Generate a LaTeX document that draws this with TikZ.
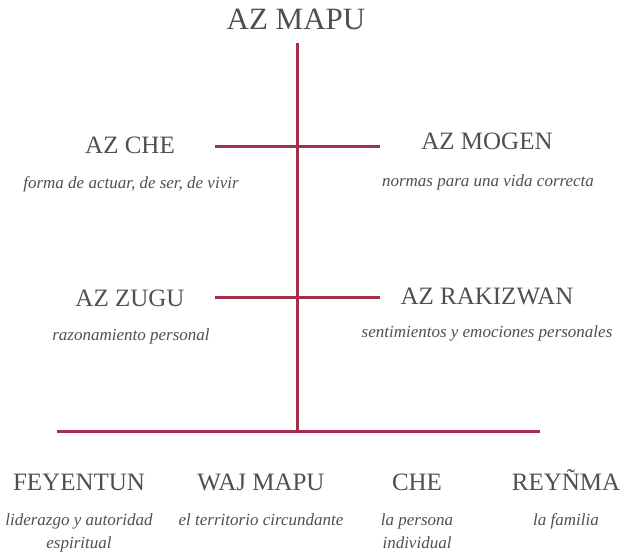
\documentclass[tikz,border=0pt]{standalone}
\usepackage{fontspec}
\setmainfont{Liberation Serif}
\usepackage{tikz}
\usetikzlibrary{positioning}
\definecolor{linecol}{HTML}{A32F48}
\definecolor{textcol}{HTML}{4F4F4F}
\tikzset{
  title/.style={text=textcol, font=\fontsize{31}{31}\selectfont},
  head/.style={text=textcol, font=\fontsize{25}{25}\selectfont, text height=0.68em, text depth=0.02em, yshift=-5pt},
  desc/.style={text=textcol, font=\itshape\fontsize{17}{23}\selectfont, align=center},
  bar/.style={draw=linecol, line width=3pt}
}
\begin{document}
\begin{tikzpicture}[x=1pt, y=-1pt]
  \useasboundingbox (0,0) rectangle (624,552);

  % Draw the title and the main axis
  \node[title] (mapu) at (296,19) {AZ MAPU};
  \coordinate (top) at (297,43);
  \coordinate (bottom) at (297,431);
  \draw[bar] (top) -- (bottom);

  % Draw the cross bars
  \coordinate (l1) at (215,146);
  \coordinate (r1) at (380,146);
  \coordinate (l2) at (215,297);
  \coordinate (r2) at (380,297);
  \draw[bar] (l1) -- (r1);
  \draw[bar] (l2) -- (r2);

  % Draw the base line
  \coordinate (bl) at (57,431);
  \coordinate (br) at (540,431);
  \draw[bar] (bl) -- (br);

  % Upper pair
  \node[head] (che) at (130,145) {AZ CHE};
  \node[desc] (cheD) at (131,184) {forma de actuar, de ser, de vivir};
  \node[head] (mogen) at (487,141) {AZ MOGEN};
  \node[desc] (mogenD) at (488,182) {normas para una vida correcta};

  % Lower pair
  \node[head] (zugu) at (130,298) {AZ ZUGU};
  \node[desc] (zuguD) at (131,336) {razonamiento personal};
  \node[head] (rakizwan) at (487,296) {AZ RAKIZWAN};
  \node[desc] (rakizwanD) at (487,333) {sentimientos y emociones personales};

  % Base items
  \foreach \name/\x/\lbl/\txt in {feyentun/79/FEYENTUN/{liderazgo y autoridad\\espiritual},
                                  wajmapu/261/WAJ MAPU/{el territorio circundante},
                                  persona/417/CHE/{la persona\\individual},
                                  reynma/566/REYÑMA/{la familia}} {
    \node[head] (\name) at (\x,482) {\lbl};
    \node[desc, anchor=north] (\name D) at (\x,510) {\txt};
  }
\end{tikzpicture}
\end{document}
